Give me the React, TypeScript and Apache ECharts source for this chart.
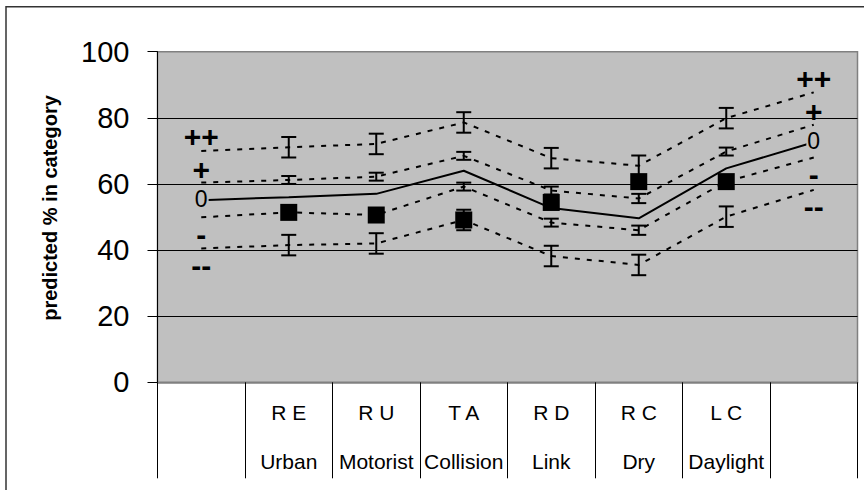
import React, { useEffect, useRef } from "react";
import * as echarts from "echarts";

// Category table rows (first and last columns are empty)
const codes = ["", "R E", "R U", "T A", "R D", "R C", "L C", ""];
const names = ["", "Urban", "Motorist", "Collision", "Link", "Dry", "Daylight", ""];

// Y axis ticks
const yTicks = [0, 20, 40, 60, 80, 100];

// Predicted lines
const seriesPP = [70.0, 71.1, 72.1, 78.6, 67.8, 65.5, 79.9, 87.7];
const seriesP = [60.4, 61.2, 62.2, 68.5, 58.0, 55.6, 69.8, 77.9];
const seriesZero = [55.1, 56.0, 57.0, 64.0, 52.7, 49.6, 64.7, 72.6];
const seriesM = [49.9, 51.4, 50.6, 59.2, 48.3, 46.0, 60.7, 68.0];
const seriesMM = [40.5, 41.5, 42.0, 49.1, 38.2, 35.5, 50.1, 58.2];

// Error bar half-widths at the inner categories (index 1..6)
const errPP = [null, 3.1, 3.1, 3.1, 3.1, 3.1, 3.1, null];
const errP = [null, 1.2, 1.2, 1.2, 1.2, 1.4, 1.2, null];
const errM = [null, 1.2, 1.2, 1.2, 1.2, 1.4, 1.2, null];
const errMM = [null, 3.1, 3.1, 3.1, 3.1, 3.1, 3.1, null];

// Observed values (black squares)
const observed = [null, 51.4, 50.6, 49.1, 54.4, 60.7, 60.7, null];

const FONT = '"Liberation Sans", Arial, sans-serif';

export default function App() {
  const ref = useRef<HTMLDivElement>(null);

  useEffect(() => {
    if (!ref.current) return;
    const chart = echarts.init(ref.current, undefined, { renderer: "svg" });
    const last = codes.length - 1;
    const categories = codes.map((c, i) => `${c}\n${names[i]}`);

    const makeLine = (
      name: string,
      values: number[],
      dotted: boolean,
      labelOffset: number,
      zeroStyle: boolean
    ) => ({
      type: "line",
      name,
      data: values.map((v, i) => ({
        value: v,
        label: { show: i === 0 || i === last },
      })),
      symbol: "circle",
      symbolSize: 0,
      showSymbol: true,
      showAllSymbol: true,
      itemStyle: { color: "#000" },
      lineStyle: dotted
        ? { color: "#000", width: 2, type: [5, 7] }
        : { color: "#000", width: 2, type: "solid" },
      label: {
        show: false,
        position: "inside",
        offset: [0, labelOffset],
        formatter: () => name,
        color: "#000",
        fontFamily: FONT,
        fontSize: zeroStyle ? 23 : 30,
        fontWeight: zeroStyle ? "normal" : "bold",
        backgroundColor: zeroStyle ? "#c0c0c0" : "transparent",
        padding: zeroStyle ? [0, 1] : 0,
      },
      z: 2,
    });

    const errData: any[] = [];
    const addErr = (vals: number[], errs: (number | null)[]) => {
      vals.forEach((v, i) => {
        const e = errs[i];
        if (e != null) errData.push([i, v - e, v + e]);
      });
    };
    addErr(seriesPP, errPP);
    addErr(seriesP, errP);
    addErr(seriesM, errM);
    addErr(seriesMM, errMM);

    chart.setOption({
      animation: false,
      backgroundColor: "#fff",
      grid: {
        left: 157.5,
        right: 6.5,
        top: 51.7,
        bottom: 116.7,
        show: true,
        backgroundColor: "#c0c0c0",
        borderColor: "#808080",
        borderWidth: 1.5,
      },
      xAxis: {
        type: "category",
        data: categories,
        boundaryGap: true,
        axisLine: { show: true, lineStyle: { color: "#808080", width: 1.5 } },
        axisTick: {
          show: true,
          interval: 0,
          alignWithLabel: false,
          length: 96,
          lineStyle: { color: "#000", width: 1 },
        },
        axisLabel: {
          interval: 0,
          margin: 5.7,
          color: "#000",
          fontFamily: FONT,
          fontSize: 21,
          lineHeight: 49,
        },
        splitLine: { show: false },
      },
      yAxis: {
        type: "value",
        min: yTicks[0],
        max: yTicks[yTicks.length - 1],
        interval: yTicks[1] - yTicks[0],
        axisLine: { show: true, lineStyle: { color: "#000", width: 1 } },
        axisTick: { show: true, length: 10, lineStyle: { color: "#000", width: 1 } },
        axisLabel: {
          margin: 28,
          color: "#000",
          fontFamily: FONT,
          fontSize: 29,
        },
        splitLine: {
          show: true,
          showMinLine: false,
          showMaxLine: false,
          lineStyle: { color: "#000", width: 1 },
        },
      },
      graphic: [
        {
          type: "polyline",
          shape: { points: [[6, 490], [6, 6.8], [870, 6.8]] },
          style: { stroke: "#333", lineWidth: 1.5, fill: null },
          silent: true,
        },
        {
          type: "text",
          x: 49.5,
          y: 208,
          rotation: Math.PI / 2,
          style: {
            text: "predicted % in category",
            fill: "#000",
            font: `bold 20px ${FONT}`,
            align: "center",
            verticalAlign: "middle",
          },
          silent: true,
        },
      ],
      series: [
        makeLine("++", seriesPP, true, -14, false),
        makeLine("+", seriesP, true, -13, false),
        makeLine("0", seriesZero, false, -1, true),
        makeLine("-", seriesM, true, 17, false),
        makeLine("--", seriesMM, true, 17, false),
        {
          type: "custom",
          name: "error",
          data: errData,
          encode: { x: 0, y: [1, 2] },
          z: 3,
          renderItem: (params: any, api: any) => {
            const idx = api.value(0);
            const lo = api.coord([idx, api.value(1)]);
            const hi = api.coord([idx, api.value(2)]);
            const x = lo[0];
            const half = 7.5;
            const st = { stroke: "#000", lineWidth: 2 };
            return {
              type: "group",
              children: [
                { type: "line", shape: { x1: x, y1: lo[1], x2: x, y2: hi[1] }, style: st },
                { type: "line", shape: { x1: x - half, y1: lo[1], x2: x + half, y2: lo[1] }, style: st },
                { type: "line", shape: { x1: x - half, y1: hi[1], x2: x + half, y2: hi[1] }, style: st },
              ],
            };
          },
        },
        {
          type: "scatter",
          name: "observed",
          data: observed.map((v) => (v == null ? "-" : v)),
          symbol: "rect",
          symbolSize: 17,
          itemStyle: { color: "#000", opacity: 1 },
          z: 5,
        },
      ],
    });

    return () => chart.dispose();
  }, []);

  return (
    <div
      ref={ref}
      style={{ position: "fixed", left: 0, top: 0, width: 864, height: 499 }}
    />
  );
}
